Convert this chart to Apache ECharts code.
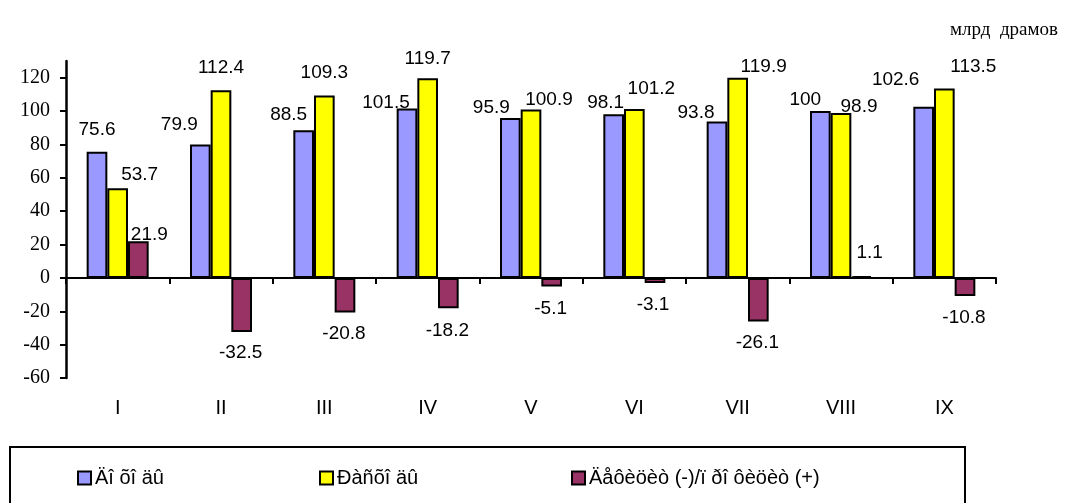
<!DOCTYPE html>
<html>
<head>
<meta charset="utf-8">
<script src="https://cdn.jsdelivr.net/npm/echarts@6/dist/echarts.min.js"></script>
<style>html,body{margin:0;padding:0;background:#fff}#c{width:1068px;height:503px}</style>
</head>
<body>
<div id="c"></div>
<script>
var categories = ['I','II','III','IV','V','VI','VII','VIII','IX'];
var income  = [75.6, 79.9, 88.5, 101.5, 95.9, 98.1, 93.8, 100, 102.6];
var expense = [53.7, 112.4, 109.3, 119.7, 100.9, 101.2, 119.9, 98.9, 113.5];
var balance = [21.9, -32.5, -20.8, -18.2, -5.1, -3.1, -26.1, 1.1, -10.8];
var yTicks = [-60, -40, -20, 0, 20, 40, 60, 80, 100, 120];
var seriesNames = ['Äî õî äû', 'Ðàñõî äû', 'Äåôèöèò (-)/ï ðî ôèöèò (+)'];
var unitText = 'млрд  драмов';

// label offsets (styling only)
var incomeOff  = [[0,-12],[-21,-10],[-15,-6],[-21,4],[-19,-1],[-8,-2],[-21,1],[-15,-2],[-28,-17]];
var expenseOff = [[22,-4],[0,-13],[0,-13],[0,-10],[18,0],[17,-11],[26,-2],[18,3],[29,-12]];
var balanceOff = [[11,3],[-1,11],[-1,12],[-1,13],[-1,13],[-2,12],[-1,12],[8,-14],[-1,12]];

var labelFont = {fontFamily: '"Liberation Sans", Arial, sans-serif', fontSize: 19, color: '#000'};

function build(vals, offs) {
  return vals.map(function (v, i) {
    return {
      value: v,
      label: Object.assign({
        show: true,
        position: v >= 0 ? 'top' : 'bottom',
        distance: 0,
        offset: offs[i]
      }, labelFont)
    };
  });
}

var colors = ['#9999FF', '#FFFF00', '#993366'];
var chart = echarts.init(document.getElementById('c'));

function legendAt(left, name, size) {
  return {
    data: [{name: name, icon: 'rect'}],
    left: left,
    top: 463,
    itemWidth: 13,
    itemHeight: 13,
    itemGap: 4,
    textStyle: {fontFamily: '"Liberation Sans", Arial, sans-serif', fontSize: size, color: '#000', padding: [2, 0, 0, -1]},
    selectedMode: false
  };
}

var option = {
  animation: false,
  backgroundColor: '#fff',
  title: {
    text: unitText,
    right: 5,
    top: 16,
    textStyle: {fontFamily: '"Liberation Serif", "DejaVu Serif", serif', fontSize: 19, fontWeight: 'normal', color: '#000'}
  },
  legend: [legendAt(72, seriesNames[0], 20), legendAt(314, seriesNames[1], 20), legendAt(566, seriesNames[2], 20)],
  graphic: [{
    type: 'rect',
    shape: {x: 10, y: 447, width: 955, height: 70},
    style: {fill: 'none', stroke: '#000', lineWidth: 2},
    z: -1
  }],
  grid: {left: 66, right: 72, top: 61, bottom: 125, containLabel: false},
  xAxis: [{
    type: 'category',
    data: categories,
    position: 'bottom',
    axisLine: {onZero: true, lineStyle: {color: '#000', width: 2}},
    axisTick: {show: true, inside: false, length: 6, lineStyle: {color: '#000', width: 2}},
    axisLabel: {show: false},
    splitLine: {show: false}
  }, {
    type: 'category',
    data: categories,
    position: 'bottom',
    axisLine: {show: false, onZero: false},
    axisTick: {show: false},
    axisLabel: {show: true, margin: 20, fontFamily: '"Liberation Sans", Arial, sans-serif', fontSize: 20, color: '#000'},
    splitLine: {show: false}
  }],
  yAxis: {
    type: 'value',
    min: -60,
    max: 130,
    interval: 20,
    axisLine: {show: true, lineStyle: {color: '#000', width: 2.5}},
    axisTick: {show: true, length: 6, customValues: yTicks, lineStyle: {color: '#000', width: 2}},
    axisLabel: {
      customValues: yTicks,
      margin: 16,
      fontFamily: '"Liberation Serif", "DejaVu Serif", serif',
      fontSize: 20,
      color: '#000'
    },
    splitLine: {show: false}
  },
  series: [{
    name: seriesNames[0], type: 'bar', xAxisIndex: 0,
    data: build(income, incomeOff),
    barGap: '0%', barCategoryGap: '40%',
    itemStyle: {color: colors[0], borderColor: '#000', borderWidth: 2}
  }, {
    name: seriesNames[1], type: 'bar', xAxisIndex: 0,
    data: build(expense, expenseOff),
    barGap: '0%', barCategoryGap: '40%',
    itemStyle: {color: colors[1], borderColor: '#000', borderWidth: 2}
  }, {
    name: seriesNames[2], type: 'bar', xAxisIndex: 0,
    data: build(balance, balanceOff),
    barGap: '0%', barCategoryGap: '40%',
    itemStyle: {color: colors[2], borderColor: '#000', borderWidth: 2}
  }]
};
chart.setOption(option);
</script>
</body>
</html>
